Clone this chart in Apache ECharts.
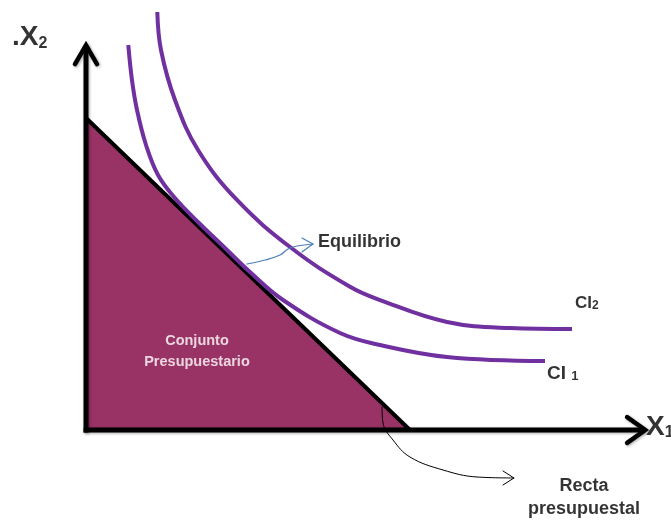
<!DOCTYPE html>
<html><head><meta charset="utf-8">
<script src="https://cdn.jsdelivr.net/npm/echarts@6/dist/echarts.min.js"></script>
<style>html,body{margin:0;padding:0;background:#fff}#c{width:671px;height:520px}</style>
</head><body><div id="c"></div>
<script>
// ---- data (chart units: origin at axes corner) ----
const yAxisLine = [[0, -0.6], [0, 89.5]];
const yArrow = [[-1.88, 85.1], [0, 89.5], [1.88, 85.1]];
const xAxisLine = [[-0.4, 0], [95.4, 0]];
const xArrow = [[92.5, 3.0], [95.6, 0], [92.5, -3.0]];
const budgetLine = [[0, 72.56], [55.38, 0]];
const ci1 = [[7.23, 89.53], [7.86, 81.40], [8.72, 74.42], [10.26, 66.28], [12.31, 59.30], [15.21, 53.95], [19.49, 47.91], [23.76, 42.33], [28.03, 36.74], [33.68, 30.23], [43.42, 22.56], [50.26, 19.77], [61.71, 16.98], [78.46, 16.05]];
const ci2 = [[12.19, 97.21], [12.82, 88.37], [15.21, 76.74], [19.15, 65.12], [25.81, 53.49], [35.16, 42.26], [45.13, 33.33], [50.26, 30.23], [61.71, 25.12], [72.48, 23.72], [83.08, 23.49]];
const eqArrowPath = [[27.52, 38.6], [30.6, 39.53], [33.16, 40.7], [34.53, 42.09], [36.07, 42.79], [38.8, 43.26]];
const eqArrowHead = [[36.92, 44.65], [38.8, 43.26], [36.92, 41.4]];
const rectaArrowPath = [[50.6, 5.35], [50.77, 1.63], [52.48, -2.33], [55.38, -6.28], [61.03, -9.3], [66.84, -10.93], [73.16, -11.16]];
const rectaArrowHead = [[71.28, -9.53], [73.16, -11.16], [71.28, -12.79]];
const labelTexts = ['{x|.X}{s|2}', '{x|X}{s|1}', 'Equilibrio', '{c|CI}{s|2}', '{c|CI }{s|1}', 'Conjunto\nPresupuestario', 'Recta\npresupuestal'];
const labelPos = [[-12.65, 91.6], [95.73, 0.93], [39.66, 43.72], [83.59, 29.77], [78.8, 13.49], [18.97, 18.14], [85.13, -15.81]];

const chart = echarts.init(document.getElementById('c'));
const font = 'Liberation Sans, Arial, sans-serif';
function seg(data, color, width, smooth, extra) {
  return Object.assign({
    type: 'line', data: data, symbol: 'none', smooth: smooth || false, silent: true,
    lineStyle: { color: color, width: width, cap: 'round', join: 'round' }, animation: false
  }, extra || {});
}
const sh = { shadowBlur: 3, shadowColor: 'rgba(0,0,0,0.35)', shadowOffsetX: 1, shadowOffsetY: 1 };
const labelStyles = [
  { align: 'left', rich: { x: { fontSize: 28, fontWeight: 'bold', fontFamily: font, color: '#000', lineHeight: 30, verticalAlign: 'bottom' }, s: { fontSize: 16, fontWeight: 'bold', fontFamily: font, color: '#000', lineHeight: 30, verticalAlign: 'bottom' } } },
  { align: 'left', rich: { x: { fontSize: 28, fontWeight: 'bold', fontFamily: font, color: '#000', lineHeight: 30, verticalAlign: 'bottom' }, s: { fontSize: 16, fontWeight: 'bold', fontFamily: font, color: '#000', lineHeight: 30, verticalAlign: 'bottom' } } },
  { align: 'left', fontSize: 18, fontWeight: 'bold', fontFamily: font, color: '#000' },
  { align: 'left', rich: { c: { fontSize: 17, fontWeight: 'bold', fontFamily: font, color: '#000', lineHeight: 20, verticalAlign: 'bottom' }, s: { fontSize: 12, fontWeight: 'bold', fontFamily: font, color: '#000', lineHeight: 20, verticalAlign: 'bottom' } } },
  { align: 'left', rich: { c: { fontSize: 19, fontWeight: 'bold', fontFamily: font, color: '#000', lineHeight: 22, verticalAlign: 'bottom' }, s: { fontSize: 13, fontWeight: 'bold', fontFamily: font, color: '#000', lineHeight: 22, verticalAlign: 'bottom' } } },
  { align: 'center', fontSize: 14.5, fontWeight: 'bold', fontFamily: font, color: '#fff', lineHeight: 21 },
  { align: 'center', fontSize: 18, fontWeight: 'bold', fontFamily: font, color: '#000', lineHeight: 23 }
];
const labelData = labelPos.map((p, i) => ({
  value: p,
  label: Object.assign({ show: true, position: 'inside', verticalAlign: 'middle', formatter: labelTexts[i] }, labelStyles[i])
}));

chart.setOption({
  animation: false,
  grid: { left: 0, right: 0, top: 0, bottom: 0 },
  xAxis: { type: 'value', min: -14.7, max: 100, show: false },
  yAxis: { type: 'value', min: -20.93, max: 100, show: false },
  series: [
    seg(budgetLine, '#000', 4, false, { areaStyle: { color: '#993366', opacity: 1 }, lineStyle: { color: '#000', width: 4, cap: 'butt' } }),
    seg(ci1, '#7030A0', 4, 0.4, { lineStyle: { color: '#7030A0', width: 4, cap: 'butt' } }),
    seg(ci2, '#7030A0', 4, 0.4, { lineStyle: { color: '#7030A0', width: 4, cap: 'butt' } }),
    seg(yAxisLine, '#000', 5, false, { lineStyle: Object.assign({ color: '#000', width: 5, cap: 'butt' }, sh) }),
    seg(xAxisLine, '#000', 5, false, { lineStyle: Object.assign({ color: '#000', width: 5, cap: 'butt' }, sh) }),
    seg(yArrow, '#000', 4.5, false, { lineStyle: Object.assign({ color: '#000', width: 4.5, cap: 'round', join: 'miter' }, sh) }),
    seg(xArrow, '#000', 4.5, false, { lineStyle: Object.assign({ color: '#000', width: 4.5, cap: 'round', join: 'miter' }, sh) }),
    seg(eqArrowPath, '#4A7EBB', 1.2, 0.4),
    seg(eqArrowHead, '#4A7EBB', 1.2, false),
    seg(rectaArrowPath, '#000', 1, 0.4),
    seg(rectaArrowHead, '#000', 1, false),
    { type: 'scatter', data: labelData, symbolSize: 0, silent: true, animation: false, z: 10 }
  ]
});
</script></body></html>
